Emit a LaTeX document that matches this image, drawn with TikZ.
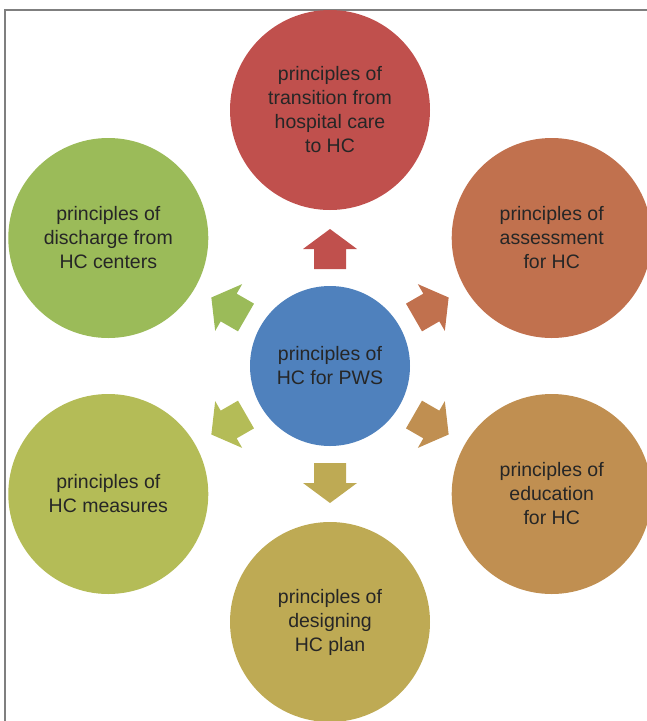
\documentclass[tikz,border=0pt]{standalone}
\usepackage{fontspec}
\setmainfont{Liberation Sans}
\usepackage{tikz}
\usetikzlibrary{positioning}
\definecolor{hcred}{HTML}{C0504D}
\definecolor{hcorange}{HTML}{C1714E}
\definecolor{hcamber}{HTML}{C08F51}
\definecolor{hcochre}{HTML}{BEAA54}
\definecolor{hcolive}{HTML}{B4BC57}
\definecolor{hcgreen}{HTML}{9BBB59}
\definecolor{hcblue}{HTML}{4F81BD}
\definecolor{hctext}{HTML}{262626}
\definecolor{hcframe}{HTML}{7F7F7F}

\begin{document}
\begin{tikzpicture}[
  x=1pt, y=1pt,
  petal/.style={circle, minimum size=200pt, inner sep=0pt, align=center,
                text=hctext, font=\fontsize{19.5pt}{24pt}\selectfont},
  core/.style={petal, minimum size=160pt},
  frameline/.style={draw=hcframe, line width=1.2pt}
]
\useasboundingbox (0,0) rectangle (647,-721);
\draw[frameline] (5,-721) -- (5,-10) -- (647,-10);

\node[core, fill=hcblue] (hub) at (330,-366) {principles of\\HC for PWS};

\path (hub) ++(90:256) node[petal, fill=hcred] (transition)
  {principles of\\transition from\\hospital care\\to HC};
\path (hub) ++(30:256) node[petal, fill=hcorange] (assess)
  {principles of\\assessment\\for HC};
\path (hub) ++(-30:256) node[petal, fill=hcamber] (educate)
  {principles of\\education\\for HC};
\path (hub) ++(-90:256) node[petal, fill=hcochre] (design)
  {principles of\\designing\\HC plan};
\path (hub) ++(210:256) node[petal, fill=hcolive] (measures)
  {principles of\\HC measures};
\path (hub) ++(150:256) node[petal, fill=hcgreen] (discharge)
  {principles of\\discharge from\\HC centers};

% block arrows pointing out of the hub
\foreach \ang/\col in {90/hcred, 30/hcorange, -30/hcamber, -90/hcochre, 210/hcolive, 150/hcgreen}
  \fill[\col, shift={(hub)}, rotate=\ang-90]
    (-16,97) -- (16,97) -- (16,117) -- (27,117) -- (0,137) -- (-27,117) -- (-16,117) -- cycle;
\end{tikzpicture}
\end{document}
